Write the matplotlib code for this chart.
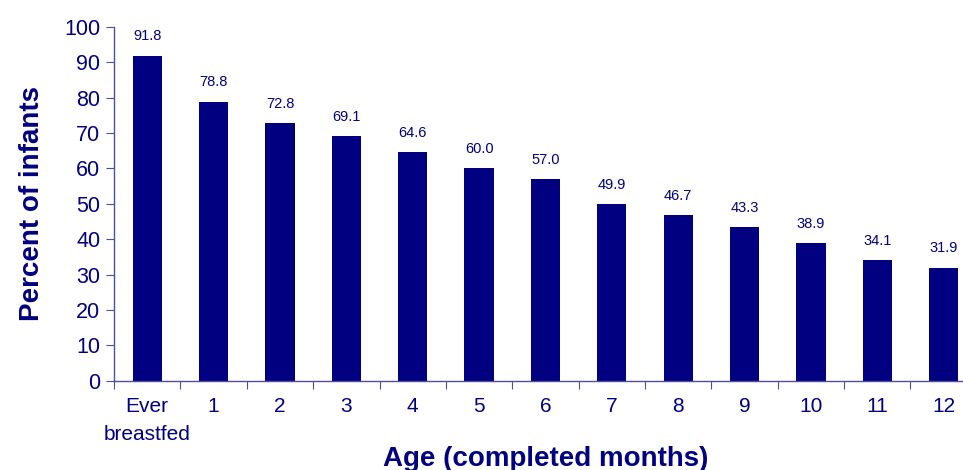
import matplotlib
matplotlib.use("Agg")
import matplotlib.pyplot as plt
import numpy as np

categories = ["Ever\nbreastfed", "1", "2", "3", "4", "5", "6",
              "7", "8", "9", "10", "11", "12"]
percent = [91.8, 78.8, 72.8, 69.1, 64.6, 60.0, 57.0,
           49.9, 46.7, 43.3, 38.9, 34.1, 31.9]
value_labels = ["91.8", "78.8", "72.8", "69.1", "64.6", "60.0", "57.0",
                "49.9", "46.7", "43.3", "38.9", "34.1", "31.9"]

NAVY = "#000080"
AXIS = "#4d4d99"

plt.rcParams["font.family"] = ["Liberation Sans", "DejaVu Sans"]

fig = plt.figure(figsize=(9.63, 4.70), dpi=100)
ax = fig.add_axes([0.1184, 0.19, 0.896, 0.753])

x = np.arange(len(categories))
ax.bar(x, percent, width=0.44, color=NAVY, zorder=2)

for xi, v, lab in zip(x, percent, value_labels):
    ax.text(xi, v + 3.5, lab, ha="center", va="bottom",
            fontsize=10.5, color=NAVY)

ax.set_xlim(-0.5, len(categories) - 0.5)
ax.set_ylim(0, 100)
ax.set_yticks(range(0, 101, 10))

# category ticks sit on the boundaries, labels in the middle
ax.set_xticks(np.arange(len(categories) + 1) - 0.5)
ax.set_xticklabels([])
ax.set_xticks(x, minor=True)
ax.set_xticklabels(categories, minor=True, fontsize=15, color=NAVY,
                   linespacing=1.6)
ax.tick_params(axis="x", which="minor", length=0, pad=12)
ax.tick_params(axis="x", which="major", length=6, color=AXIS, direction="out")
ax.tick_params(axis="y", length=6, color=AXIS, labelsize=15.5, labelcolor=NAVY,
               pad=4)

for side in ("top", "right"):
    ax.spines[side].set_visible(False)
for side in ("left", "bottom"):
    ax.spines[side].set_color(AXIS)
    ax.spines[side].set_linewidth(1.0)

ax.set_ylabel("Percent of infants", fontsize=20, fontweight="bold",
              color=NAVY, labelpad=14)
ax.set_xlabel("Age (completed months)", fontsize=20, fontweight="bold",
              color=NAVY, labelpad=1)

fig.savefig("out.png", dpi=100)
